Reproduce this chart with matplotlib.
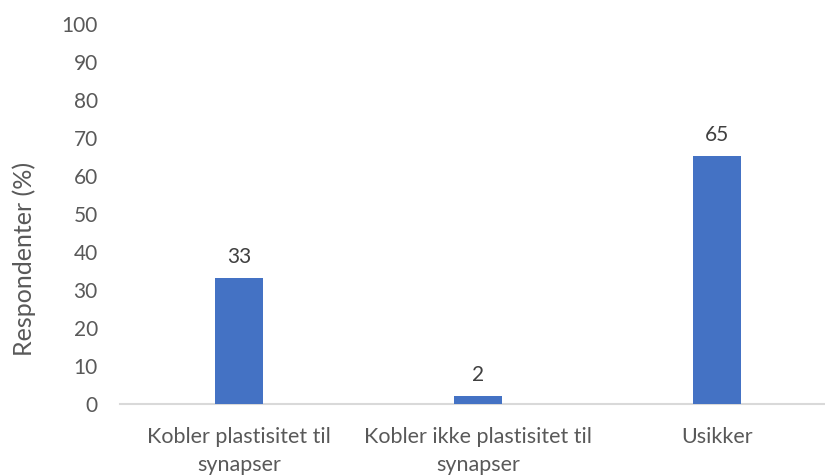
import matplotlib.pyplot as plt

categories = ["Kobler plastisitet til\nsynapser", "Kobler ikke plastisitet til\nsynapser", "Usikker"]
values = [33, 2, 65]
yticks = [0, 10, 20, 30, 40, 50, 60, 70, 80, 90, 100]

plt.rcParams["font.family"] = ["Lato", "DejaVu Sans"]

W, H = 825, 477
fig = plt.figure(figsize=(W / 100, H / 100), dpi=100)
ax = fig.add_axes([120 / W, (H - 404.5) / H, 716 / W, 380.5 / H])

x = range(len(categories))
bars = ax.bar(x, values, width=0.2, color="#4472c4", zorder=3)
for rect, v in zip(bars, values):
    ax.text(rect.get_x() + rect.get_width() / 2, v + 3.2, str(v),
            ha="center", va="bottom", fontsize=15, color="#404040")

ax.set_xlim(-0.5, len(categories) - 0.5)
ax.set_ylim(0, 100)
ax.set_yticks(yticks)
ax.set_xticks(list(x))
ax.set_xticklabels(categories, fontsize=15.5, color="#595959", linespacing=1.5)
ax.tick_params(axis="y", labelsize=15, labelcolor="#595959", length=0, pad=16)
ax.tick_params(axis="x", length=0, pad=16)

for side in ("top", "right", "left"):
    ax.spines[side].set_visible(False)
ax.spines["bottom"].set_color("#d9d9d9")
ax.spines["bottom"].set_linewidth(1.5)

fig.text(24 / W, (H - 259) / H, "Respondenter (%)", rotation=90,
         ha="center", va="center", fontsize=18, color="#595959")

fig.savefig("out.png", dpi=100)
